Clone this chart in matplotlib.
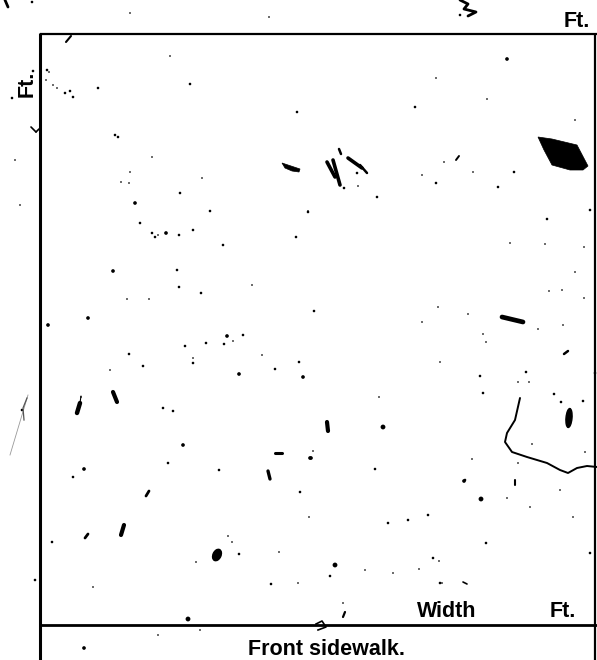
import matplotlib
matplotlib.use("Agg")
import matplotlib.pyplot as plt
from matplotlib import font_manager
from matplotlib.patches import Polygon, Ellipse

# page size in pixels, drawing is done in pixel-like units (y down)
W, H = 597, 660

# frame lines: (x0, y0, x1, y1, width)
frame_x0 = [40, 40, 595, 40]
frame_y0 = [33, 34, 33, 625]
frame_x1 = [40, 597, 595, 597]
frame_y1 = [660, 34, 660, 625]
frame_lw = [2.2, 1.6, 1.6, 2.0]

# labels
label_text = ["Ft.", "Ft.", "Width", "Ft.", "Front sidewalk."]
label_x = [577, 33, 447, 563, 327]
label_y = [27, 84, 617, 617, 655]
label_rot = [0, 90, 0, 0, 0]

# the solid dark patch (top right)
patch_x = [538, 552, 577, 588, 583, 570, 552, 544]
patch_y = [137, 139, 145, 166, 170, 170, 165, 150]

# the dash left of the smudge group
dash_x = [282, 288, 294, 300, 299, 292, 285]
dash_y = [163, 165, 167, 169, 172, 171, 168]

# hand drawn curve near the right edge
curve_x = [520, 515, 507, 505, 512, 527, 547, 560, 568, 577, 587, 597]
curve_y = [398, 420, 433, 442, 452, 457, 463, 470, 473, 468, 466, 467]

# bigger blots: centre, width, height, angle
blot_x = [217, 569]
blot_y = [555, 418]
blot_w = [8, 6]
blot_h = [12, 19]
blot_a = [25, 5]

# short streaks: x0, y0, x1, y1, width
streak_x0 = [66, 5, 327, 333, 339, 348, 360, 113, 77, 80, 146, 268, 275, 121, 85,
             327, 502, 564, 515, 345, 463, 456, 31, 36]
streak_y0 = [42, 0, 162, 160, 149, 158, 165, 392, 413, 403, 496, 471, 453, 535, 538,
             422, 317, 354, 480, 612, 582, 160, 127, 132]
streak_x1 = [71, 8, 335, 340, 341, 362, 367, 117, 80, 81, 149, 270, 282, 124, 88,
             328, 523, 568, 515, 343, 467, 459, 36, 39]
streak_y1 = [36, 7, 177, 185, 154, 168, 173, 402, 403, 396, 491, 479, 453, 525, 534,
             431, 322, 351, 485, 617, 584, 156, 132, 129]
streak_lw = [1.5, 2.0, 2.6, 2.6, 1.8, 2.6, 1.8, 3.0, 3.2, 0.8, 2.0, 2.4, 2.2, 3.0, 2.0,
             3.0, 3.4, 1.8, 1.5, 1.6, 1.2, 1.4, 1.2, 1.2]

# little scribble at the top edge and the hook on the bottom line
scrib_x = [460, 468, 464, 476, 468]
scrib_y = [0, 4, 9, 12, 16]
hook_x = [316, 322, 326, 318]
hook_y = [624, 621, 627, 630]

# specks: x, y, size class (1 tiny, 2 small, 3 medium, 3.5 large)
speck_x = [98, 12, 33, 47, 49, 46, 57, 65, 70, 73, 53, 190, 170, 115, 118, 130, 121, 129,
           202, 152, 180, 297, 269, 130, 32,
           507, 436, 415, 487, 514, 436, 498, 473, 422, 444, 575, 460,
           344, 358, 377, 308, 357,
           135, 210, 140, 152, 155, 158, 166, 179, 193, 223, 296, 308, 113, 177, 179, 201,
           252, 127, 149, 88, 48, 314, 227, 243, 224, 233, 185, 206, 129, 193, 193, 143,
           262, 299, 275, 239, 303, 110, 81,
           173, 163, 183, 168, 84, 73, 219, 311, 300, 52, 228, 232, 239, 196, 279, 271,
           93, 309, 298,
           383, 310, 313, 375, 464, 481, 428, 408, 388, 486, 335, 330, 433, 439, 419, 365,
           393, 440, 483, 379, 472,
           547, 545, 590, 438, 468, 549, 562, 584, 563, 538, 526, 480, 440, 483, 486, 510,
           584, 575, 422, 518, 529, 595,
           554, 561, 583, 465, 518, 532, 507, 530, 560, 573, 585,
           188, 343, 84, 590, 35, 442, 158, 200, 20, 15, 22]
speck_y = [88, 98, 71, 70, 72, 80, 88, 93, 91, 97, 85, 84, 56, 135, 137, 172, 182, 183,
           178, 157, 193, 112, 17, 13, 2,
           59, 78, 107, 99, 172, 183, 187, 172, 175, 162, 120, 15,
           188, 186, 197, 211, 173,
           203, 211, 223, 233, 237, 235, 233, 235, 230, 245, 237, 212, 271, 270, 287, 293,
           285, 299, 299, 318, 325, 311, 336, 335, 344, 341, 346, 343, 354, 358, 363, 366,
           355, 362, 369, 374, 377, 370, 397,
           411, 408, 445, 463, 469, 477, 470, 458, 492, 542, 536, 542, 554, 562, 552, 584,
           587, 517, 583,
           427, 458, 451, 469, 481, 499, 515, 520, 523, 543, 565, 576, 558, 561, 569, 570,
           573, 583, 393, 397, 459,
           219, 244, 210, 307, 314, 291, 290, 298, 325, 329, 372, 376, 362, 334, 342, 243,
           247, 272, 322, 382, 382, 373,
           394, 402, 401, 480, 463, 444, 498, 507, 490, 517, 452,
           619, 603, 648, 553, 580, 583, 635, 630, 205, 160, 410]
speck_c = [2, 2, 2, 2, 1, 1, 1, 2, 2, 2, 1, 2, 1, 2, 2, 1, 1, 1,
           1, 1, 2, 2, 1, 1, 2,
           3, 1, 2, 1, 2, 2, 2, 1, 1, 1, 1, 2,
           2, 1, 2, 1, 2,
           3, 2, 2, 2, 2, 1, 3, 2, 2, 2, 2, 2, 3, 2, 2, 2,
           1, 1, 1, 3, 3, 2, 3, 2, 2, 1, 2, 2, 2, 1, 2, 2,
           1, 2, 2, 3, 3, 1, 1,
           2, 2, 3, 2, 3, 2, 2, 3, 2, 2, 1, 1, 2, 1, 1, 2,
           1, 1, 1,
           3.5, 3, 1, 2, 3, 3.5, 2, 2, 2, 2, 3.5, 2, 2, 1, 1, 1,
           1, 2, 2, 1, 1,
           2, 1, 2, 1, 1, 1, 1, 1, 1, 1, 2, 2, 1, 1, 1, 1,
           1, 1, 1, 1, 1, 2,
           2, 2, 2, 2, 1, 1, 1, 1, 1, 1, 1,
           3.5, 1, 3, 2, 2, 1, 1, 1, 1, 1, 2]

# faint pencil marks outside the frame
faint_x = [28, 10]
faint_y = [395, 455]
bracket_x = [27, 23, 24]
bracket_y = [398, 408, 420]

names = {f.name for f in font_manager.fontManager.ttflist}
if "Liberation Sans Narrow" in names:
    fam, fs = "Liberation Sans Narrow", 18
else:
    fam, fs = "Liberation Sans", 15.5

fig = plt.figure(figsize=(W / 100, H / 100), dpi=100)
ax = fig.add_axes([0, 0, 1, 1])
ax.set_xlim(0, W)
ax.set_ylim(H, 0)
ax.axis("off")

for i in range(len(frame_x0)):
    ax.plot([frame_x0[i], frame_x1[i]], [frame_y0[i], frame_y1[i]],
            color="black", lw=frame_lw[i], solid_capstyle="butt")

ax.add_patch(Polygon(list(zip(patch_x, patch_y)), closed=True, color="black", lw=0.5))
ax.add_patch(Polygon(list(zip(dash_x, dash_y)), closed=True, color="black", lw=0.5))
ax.plot(curve_x, curve_y, color="black", lw=1.4, solid_capstyle="round")

for i in range(len(blot_x)):
    ax.add_patch(Ellipse((blot_x[i], blot_y[i]), blot_w[i], blot_h[i],
                         angle=blot_a[i], color="black"))

for i in range(len(streak_x0)):
    ax.plot([streak_x0[i], streak_x1[i]], [streak_y0[i], streak_y1[i]],
            color="black", lw=streak_lw[i], solid_capstyle="round")

ax.plot(scrib_x, scrib_y, color="black", lw=2.0, solid_capstyle="round")
ax.plot(hook_x, hook_y, color="black", lw=1.2)
ax.plot(faint_x, faint_y, color="#999999", lw=0.6)
ax.plot(bracket_x, bracket_y, color="#555555", lw=0.9)

sizes = {1: 1.5, 2: 3.5, 3: 7, 3.5: 12}
ax.scatter(speck_x, speck_y, s=[sizes[c] for c in speck_c], color="black",
           linewidths=0)

for i in range(len(label_text)):
    ax.text(label_x[i], label_y[i], label_text[i], rotation=label_rot[i],
            rotation_mode="anchor", ha="center", va="baseline",
            fontsize=fs, fontweight="bold", family=fam, color="black")

plt.savefig("out.png", dpi=100)
